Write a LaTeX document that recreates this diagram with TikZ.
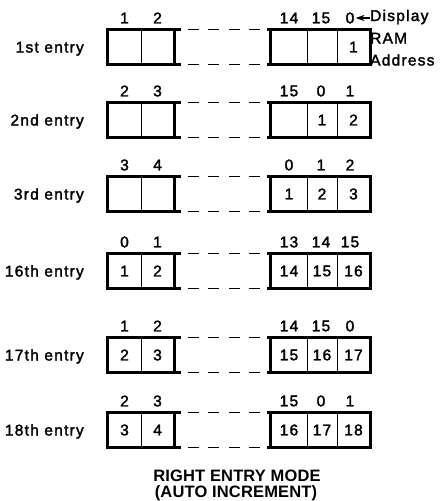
\documentclass[tikz,border=0pt]{standalone}
\usepackage{fontspec}
\setmainfont{Liberation Sans}
\newfontfamily\labfont[LetterSpace=8,FakeBold=2]{Liberation Sans}
\newfontfamily\ttlfont[LetterSpace=1]{Liberation Sans}
\usetikzlibrary{arrows.meta}
\begin{document}
\begin{tikzpicture}[x=1pt,y=-1pt,
  txt/.style={font=\labfont\fontsize{15.5}{15.5}\selectfont, inner sep=0pt},
  cell/.style={txt, draw, line width=1pt, minimum height=34pt},
  idx/.style={txt},
  lab/.style={txt, anchor=base east},
  side/.style={txt, anchor=base west},
  ttl/.style={font=\ttlfont\bfseries\fontsize{16.5}{16.5}\selectfont, inner sep=0pt, anchor=base},
  border/.style={line width=2.2pt},
  dashline/.style={line width=1.6pt, dash pattern=on 11pt off 9.5pt, dash phase=13.5pt},
  pointer/.style={line width=1.3pt, -{Stealth[length=9pt,width=6pt]}, shorten >=1pt}]
\useasboundingbox (0,0) rectangle (440,501);
\foreach \yy/\lab/\ta/\tb/\tc/\td/\te/\ca/\cb/\cc/\cd/\ce [count=\i] in {
  30/1st entry/1/2/14/15/0/{}/{}/{}/{}/1,
  103/2nd entry/2/3/15/0/1/{}/{}/{}/1/2,
  177/3rd entry/3/4/0/1/2/{}/{}/1/2/3,
  254/16th entry/0/1/13/14/15/1/2/14/15/16,
  338/17th entry/1/2/14/15/0/2/3/15/16/17,
  413/18th entry/2/3/15/0/1/3/4/16/17/18}{
  \node[cell, minimum width=33pt] (a\i) at (124.5,\yy+17) {\ca};
  \node[cell, minimum width=33pt] (b\i) at (157.5,\yy+17) {\cb};
  \node[cell, minimum width=36pt] (c\i) at (289,\yy+17) {\cc};
  \node[cell, minimum width=30pt] (d\i) at (322,\yy+17) {\cd};
  \node[cell, minimum width=33pt] (e\i) at (353.5,\yy+17) {\ce};
  \draw[border] (a\i.north west) rectangle (b\i.south east);
  \draw[border] (c\i.north west) rectangle (e\i.south east);
  \draw[border] (b\i.north east) -- ++(6,0) coordinate (bn\i);
  \draw[border] (b\i.south east) -- ++(6,0) coordinate (bs\i);
  \draw[border] (c\i.north west) -- ++(-4,0) coordinate (cn\i);
  \draw[border] (c\i.south west) -- ++(-4,0) coordinate (cs\i);
  \draw[dashline] (bn\i) -- (cn\i);
  \draw[dashline] (bs\i) -- (cs\i);
  \node[idx] (ta\i) at (124.5,\yy-12) {\ta};
  \node[idx] (tb\i) at (157.5,\yy-12) {\tb};
  \node[idx] (tc\i) at (289,\yy-12) {\tc};
  \node[idx] (td\i) at (321,\yy-12) {\td};
  \node[idx] (te\i) at (350,\yy-12) {\te};
  \node[lab] (l\i) at (84,\yy+22.5) {\lab};
}
\node[side] (disp) at (370,21) {Display};
\node[side] (ram) at (370,43.5) {RAM};
\node[side] (addr) at (370,65.5) {Address};
\draw[pointer] (disp.west |- te1.east) -- (te1.east);
\node[ttl] (t1) at (237,481.5) {RIGHT ENTRY MODE};
\node[ttl] (t2) at (236,497.5) {(AUTO INCREMENT)};
\end{tikzpicture}
\end{document}
